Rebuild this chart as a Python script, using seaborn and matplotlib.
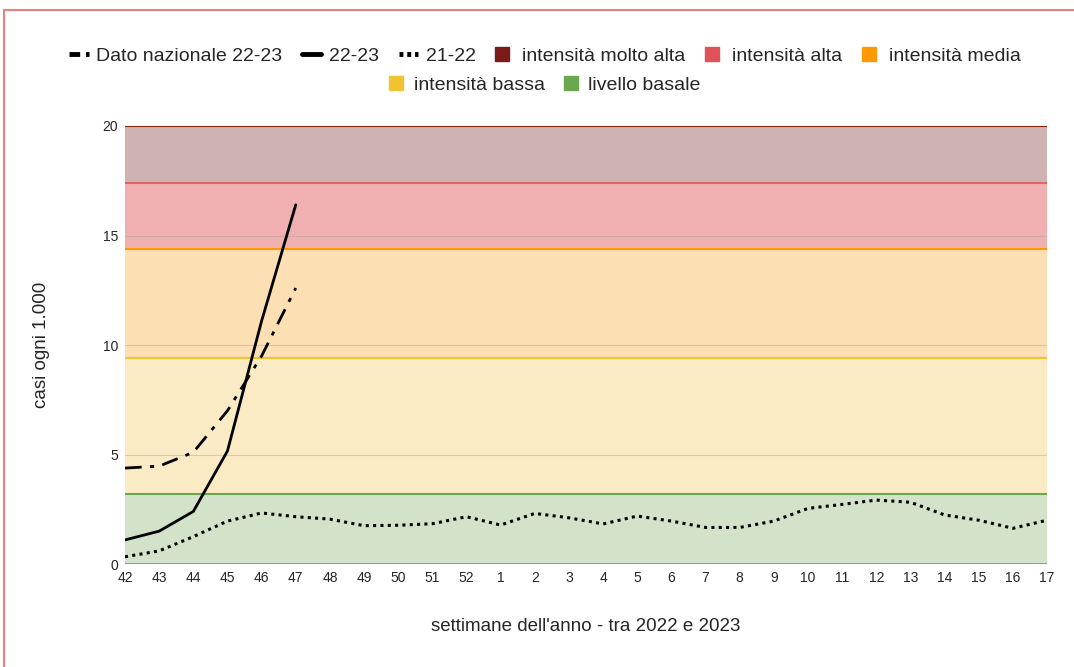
import numpy as np
import pandas as pd
import matplotlib
matplotlib.use("Agg")
import matplotlib.pyplot as plt
import seaborn as sns
from matplotlib.lines import Line2D
from matplotlib.patches import Patch, Rectangle

weeks = ["42", "43", "44", "45", "46", "47", "48", "49", "50", "51", "52", "1", "2", "3",
         "4", "5", "6", "7", "8", "9", "10", "11", "12", "13", "14", "15", "16", "17"]
nazionale_22_23 = [4.38, 4.47, 5.1, 7.0, 9.5, 12.6]
season_22_23 = [1.1, 1.5, 2.4, 5.16, 11.1, 16.4]
season_21_22 = [0.33, 0.6, 1.25, 1.96, 2.33, 2.16, 2.05, 1.75, 1.77, 1.84, 2.16, 1.78, 2.31, 2.11,
                1.83, 2.19, 1.96, 1.67, 1.67, 1.96, 2.54, 2.72, 2.92, 2.82, 2.24, 2.0, 1.63, 2.0]

band_names = ["livello basale", "intensità bassa", "intensità media", "intensità alta", "intensità molto alta"]
band_tops = [3.2, 9.4, 14.4, 17.4, 20.0]
band_line_colors = ["#6aa84f", "#f1c232", "#ff9900", "#e06666", "#85200c"]
band_fill_colors = ["#d2e3c9", "#faebc4", "#fcdfb3", "#f0b0b2", "#cfb2b2"]
legend_band_colors = ["#6aa84f", "#f1c232", "#ff9900", "#e05257", "#7a1a1a"]

sns.set_theme(style="white")
plt.rcParams["font.family"] = ["Liberation Sans", "DejaVu Sans"]

fig = plt.figure(figsize=(10.74, 6.67), dpi=100)
ax = fig.add_axes([0.1164, 0.1544, 0.8585, 0.6567])

bottom = 0.0
for top, fc, lc in zip(band_tops, band_fill_colors, band_line_colors):
    ax.axhspan(bottom, top, color=fc, lw=0, zorder=0)
    ax.axhline(top, color=lc, lw=1.5, zorder=1)
    bottom = top

for yv in [5, 10, 15]:
    ax.axhline(yv, color="#b0a0a0", lw=0.8, alpha=0.45, zorder=1)
ax.axhline(0, color="#888888", lw=1.2, zorder=1)

x_all = np.arange(len(weeks))
df21 = pd.DataFrame({"x": x_all, "y": season_21_22})
df22 = pd.DataFrame({"x": x_all[:len(season_22_23)], "y": season_22_23})
dfn = pd.DataFrame({"x": x_all[:len(nazionale_22_23)], "y": nazionale_22_23})

sns.lineplot(data=df21, x="x", y="y", ax=ax, color="black", lw=2.2, linestyle=(0, (1, 1.4)), zorder=3)
sns.lineplot(data=df22, x="x", y="y", ax=ax, color="black", lw=2.0, zorder=3)
sns.lineplot(data=dfn, x="x", y="y", ax=ax, color="black", lw=2.0, linestyle=(0, (6, 3, 1.5, 3)), zorder=3)

ax.set_xlim(0, len(weeks) - 1)
ax.set_ylim(0, 20)
ax.set_xticks(x_all)
ax.set_xticklabels(weeks, fontsize=10)
ax.set_yticks([0, 5, 10, 15, 20])
ax.set_yticklabels(["0", "5", "10", "15", "20"], fontsize=10)
ax.tick_params(axis="both", length=0, pad=5)
for s in ax.spines.values():
    s.set_visible(False)
ax.set_xlabel("settimane dell'anno - tra 2022 e 2023", fontsize=13.5, labelpad=24)
ax.set_ylabel("casi ogni 1.000", fontsize=13.5, labelpad=38)

h1 = [
    Line2D([], [], color="black", lw=3.5, linestyle=(0, (2.2, 1.2, 0.8, 1.2))),
    Line2D([], [], color="black", lw=3.5),
    Line2D([], [], color="black", lw=3.5, linestyle=(0, (0.8, 0.8))),
    Patch(color=legend_band_colors[4]),
    Patch(color=legend_band_colors[3]),
    Patch(color=legend_band_colors[2]),
]
l1 = ["Dato nazionale 22-23", "22-23", "21-22", "intensità molto alta", "intensità alta", "intensità media"]
h2 = [Patch(color=legend_band_colors[1]), Patch(color=legend_band_colors[0])]
l2 = ["intensità bassa", "livello basale"]

leg1 = fig.legend(h1, l1, loc="center", bbox_to_anchor=(0.5075, 1 - 56 / 667), ncol=6, frameon=False,
                  fontsize=14, handlelength=1.0, handleheight=0.75, handletextpad=0.4, columnspacing=1.0,
                  borderpad=0)
leg2 = fig.legend(h2, l2, loc="center", bbox_to_anchor=(0.5075, 1 - 85 / 667), ncol=2, frameon=False,
                  fontsize=14, handlelength=0.75, handleheight=0.75, handletextpad=0.5, columnspacing=1.0,
                  borderpad=0)
for leg in (leg1, leg2):
    for p in leg.get_patches():
        p.set_height(10)
        p.set_width(10)

fig.patches.append(Rectangle((4 / 1074, -0.05), 1.1, 1 - 10 / 667 + 0.05, transform=fig.transFigure,
                             fill=False, edgecolor="#e88080", lw=1.5, clip_on=False))

fig.savefig("out.png", dpi=100)
